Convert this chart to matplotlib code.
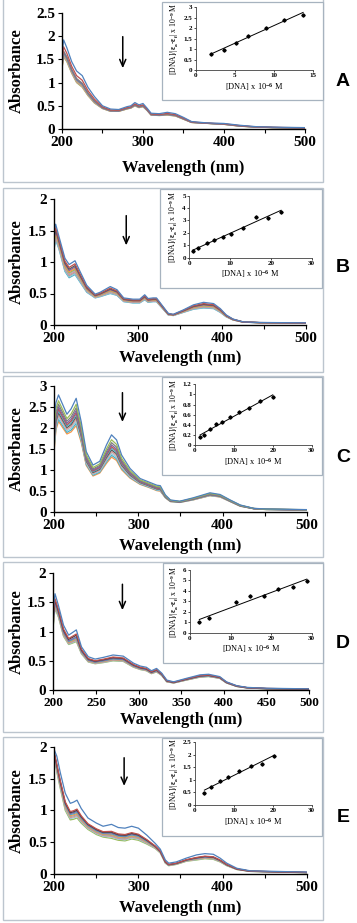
import numpy as np
import matplotlib
matplotlib.use('Agg')
import matplotlib.pyplot as plt
from matplotlib.patches import Rectangle
from matplotlib.ticker import FuncFormatter

plt.rcParams['font.family'] = ['Liberation Serif', 'DejaVu Serif']
plt.rcParams['font.weight'] = 'bold'
plt.rcParams['mathtext.fontset'] = 'custom'
plt.rcParams['mathtext.rm'] = 'Liberation Serif:bold'
plt.rcParams['mathtext.it'] = 'Liberation Serif:bold'
plt.rcParams['mathtext.bf'] = 'Liberation Serif:bold'
plt.rcParams['mathtext.default'] = 'rm'

# ---- spectra: top (blue) and bottom curves ----
wl_a = [200, 202, 206, 212, 218, 225, 232, 240, 250, 260, 270, 280, 285, 290, 295, 300,
        305, 310, 320, 330, 340, 350, 360, 380, 400, 420, 440, 460, 500]
top_a = [1.6, 1.92, 1.75, 1.45, 1.25, 1.15, 0.9, 0.7, 0.5, 0.43, 0.42, 0.48, 0.5, 0.57, 0.52, 0.55,
         0.45, 0.34, 0.33, 0.36, 0.33, 0.25, 0.16, 0.13, 0.12, 0.08, 0.05, 0.04, 0.03]
bot_a = [1.3, 1.55, 1.45, 1.2, 1.0, 0.9, 0.72, 0.56, 0.44, 0.38, 0.38, 0.43, 0.45, 0.5, 0.46, 0.48,
         0.4, 0.3, 0.29, 0.3, 0.28, 0.21, 0.14, 0.12, 0.1, 0.06, 0.04, 0.03, 0.02]
frac_a = [0, 0.4, 0.65, 0.72, 0.78, 0.84, 0.9, 0.95, 1.0]

wl_b = [200, 202, 206, 213, 218, 225, 231, 239, 249, 255, 267, 275, 283, 294, 302, 308, 312,
        318, 322, 330, 336, 342, 354, 366, 378, 390, 398, 405, 413, 425, 445, 500]
top_b = [1.5, 1.6, 1.4, 1.06, 0.96, 1.02, 0.85, 0.63, 0.49, 0.52, 0.61, 0.56, 0.43, 0.41, 0.41, 0.48, 0.42,
         0.43, 0.43, 0.29, 0.185, 0.17, 0.24, 0.32, 0.36, 0.34, 0.26, 0.16, 0.095, 0.05, 0.04, 0.035]
bot_b = [1.2, 1.35, 1.2, 0.85, 0.75, 0.8, 0.68, 0.52, 0.43, 0.45, 0.5, 0.47, 0.37, 0.35, 0.35, 0.4, 0.36,
         0.37, 0.37, 0.25, 0.16, 0.15, 0.2, 0.25, 0.27, 0.26, 0.2, 0.13, 0.08, 0.045, 0.035, 0.03]
frac_b = [0, 0.22, 0.35, 0.45, 0.55, 0.63, 0.7, 0.78, 0.85, 0.93, 1.0]

wl_c = [200, 202, 205, 210, 215, 220, 226, 232, 238, 246, 254, 262, 268, 274, 280, 290, 302,
        312, 322, 326, 332, 338, 349, 365, 385, 397, 409, 421, 437, 452, 500]
top_c = [2.3, 2.6, 2.78, 2.55, 2.32, 2.45, 2.7, 2.14, 1.43, 1.11, 1.2, 1.59, 1.83, 1.71, 1.35, 1.03, 0.79,
         0.71, 0.63, 0.62, 0.4, 0.28, 0.25, 0.33, 0.45, 0.41, 0.28, 0.16, 0.08, 0.065, 0.05]
bot_c = [1.5, 1.95, 2.15, 2.0, 1.85, 1.9, 2.05, 1.65, 1.1, 0.85, 0.92, 1.15, 1.3, 1.22, 1.0, 0.8, 0.65,
         0.58, 0.5, 0.49, 0.33, 0.24, 0.22, 0.28, 0.38, 0.35, 0.24, 0.13, 0.07, 0.05, 0.04]
frac_c = [0, 0.22, 0.35, 0.45, 0.53, 0.6, 0.68, 0.76, 0.84, 0.92, 1.0]

wl_d = [200, 202, 206, 212, 218, 222, 227, 233, 241, 249, 259, 270, 282, 294, 302, 309, 315,
        321, 327, 333, 341, 356, 372, 382, 395, 403, 415, 427, 450, 500]
top_d = [1.4, 1.65, 1.45, 1.11, 0.94, 0.98, 1.03, 0.74, 0.57, 0.53, 0.56, 0.6, 0.58, 0.46, 0.41, 0.39, 0.33,
         0.37, 0.29, 0.17, 0.14, 0.2, 0.26, 0.27, 0.23, 0.14, 0.074, 0.045, 0.03, 0.02]
bot_d = [1.1, 1.4, 1.25, 0.92, 0.78, 0.8, 0.83, 0.62, 0.48, 0.45, 0.47, 0.5, 0.49, 0.39, 0.35, 0.33, 0.28,
         0.31, 0.25, 0.14, 0.12, 0.17, 0.22, 0.23, 0.2, 0.12, 0.06, 0.035, 0.02, 0.015]
frac_d = [0, 0.35, 0.45, 0.6, 0.68, 0.75, 0.82, 0.88, 0.94, 1.0]

wl_e = [200, 203, 207, 213, 219, 223, 227, 232, 240, 250, 258, 268, 276, 284, 292, 300, 310,
        320, 326, 332, 336, 345, 357, 369, 379, 389, 397, 405, 417, 433, 500]
top_e = [1.95, 1.85, 1.6, 1.27, 1.11, 1.13, 1.16, 1.03, 0.88, 0.8, 0.75, 0.78, 0.73, 0.72, 0.75, 0.72, 0.61,
         0.48, 0.39, 0.22, 0.17, 0.19, 0.25, 0.3, 0.32, 0.31, 0.25, 0.17, 0.09, 0.05, 0.03]
bot_e = [1.85, 1.6, 1.35, 1.0, 0.85, 0.86, 0.88, 0.8, 0.7, 0.62, 0.58, 0.56, 0.53, 0.52, 0.55, 0.53, 0.47,
         0.4, 0.33, 0.17, 0.13, 0.15, 0.2, 0.22, 0.24, 0.23, 0.19, 0.13, 0.07, 0.04, 0.02]
frac_e = [0, 0.5, 0.56, 0.62, 0.68, 0.74, 0.8, 0.86, 0.92, 1.0]

# ---- inset data: [DNA] vs [DNA]/|ea-ef| ----
conc_a = [2.05, 3.63, 5.17, 6.67, 9.0, 11.3, 13.8]
ratio_a = [0.75, 0.96, 1.31, 1.64, 2.01, 2.39, 2.65]
conc_b = [0.8, 2.2, 4.25, 6.1, 8.2, 10.2, 13.2, 16.4, 19.4, 22.5]
ratio_b = [0.54, 0.75, 1.21, 1.42, 1.69, 1.88, 2.42, 3.31, 3.23, 3.71]
conc_c = [1.3, 2.3, 3.9, 5.4, 6.9, 9.0, 11.4, 13.9, 16.7, 20.0]
ratio_c = [0.15, 0.2, 0.32, 0.41, 0.45, 0.56, 0.65, 0.74, 0.86, 0.94]
conc_d = [2.3, 4.6, 11.3, 14.8, 18.3, 21.8, 25.3, 28.8]
ratio_d = [0.99, 1.44, 2.91, 3.51, 3.55, 4.19, 4.41, 4.98]
conc_e = [2.4, 4.0, 6.3, 8.6, 11.4, 14.3, 17.3, 20.3]
ratio_e = [0.47, 0.7, 0.97, 1.13, 1.36, 1.57, 1.65, 1.95]

letters = ['A', 'B', 'C', 'D', 'E']
ymax_main = [2.5, 2, 3, 2, 2]
inset_xmax = [15, 30, 30, 30, 30]
inset_ymax = [3, 5, 1.2, 6, 2.5]
inset_xstep = [5, 10, 10, 10, 10]
inset_ystep = [0.5, 1, 0.2, 1, 0.5]
xlabel_step = [100, 100, 100, 50, 100]

pal_a = ['#4F81BD', '#C0504D', '#7F7F7F', '#8064A2', '#4BACC6', '#F79646', '#A5A5A5', '#D99694', '#9BBB59']
pal_b = ['#4F81BD', '#C0504D', '#595959', '#8064A2', '#F79646', '#9BBB59', '#B3A2C7', '#D99694',
         '#A5A5A5', '#93CDDD', '#4BACC6']
pal_c = ['#4F81BD', '#9BBB59', '#7F7F7F', '#8064A2', '#C0504D', '#4BACC6', '#595959', '#D99694',
         '#93CDDD', '#4BACC6', '#F79646']
pal_d = ['#4F81BD', '#C0504D', '#404040', '#8064A2', '#4BACC6', '#F79646', '#A5A5A5', '#D99694', '#93CDDD', '#9BBB59']
pal_e = ['#4F81BD', '#C0504D', '#404040', '#8064A2', '#4BACC6', '#F79646', '#A5A5A5', '#D99694', '#93CDDD', '#9BBB59']

spectra = [(wl_a, top_a, bot_a, frac_a, pal_a), (wl_b, top_b, bot_b, frac_b, pal_b),
           (wl_c, top_c, bot_c, frac_c, pal_c), (wl_d, top_d, bot_d, frac_d, pal_d),
           (wl_e, top_e, bot_e, frac_e, pal_e)]
insets = [(conc_a, ratio_a), (conc_b, ratio_b), (conc_c, ratio_c), (conc_d, ratio_d), (conc_e, ratio_e)]

# ---- layout in pixels (x0, y0, x1, y1) ----
W, H = 357, 923
main_px = [(62, 13, 305, 129), (54, 199, 306, 325), (54.3, 385.7, 306.7, 511.7),
           (53.3, 573.3, 309.3, 690), (54.3, 746.7, 306.7, 874)]
inset_px = [(195.5, 7.3, 312.5, 70), (189.3, 195.7, 311.7, 257.7), (195, 384.3, 311.7, 445),
            (190, 570, 311.7, 632.7), (195, 742.3, 311.7, 805)]
inbox_px = [(162, 2, 323, 100), (160, 189, 322, 288), (162, 377, 322, 475),
            (163, 563, 323, 663), (162, 738, 322, 836)]
box_px = [(3, -2, 323, 182), (3, 188, 323, 372), (3, 376, 323, 557), (3, 562, 323, 732), (3, 737, 323, 920)]
letter_y = [82, 268, 457, 643, 817]
xlab_y = [168, 358, 546, 720, 908]
arrows = [(275, 2.05, 1.25), (286, 1.78, 1.22), (281, 2.9, 2.07), (281, 1.86, 1.32), (283, 1.87, 1.34)]


def rect(p):
    x0, y0, x1, y1 = p
    return [x0 / W, 1 - y1 / H, (x1 - x0) / W, (y1 - y0) / H]


fig = plt.figure(figsize=(W / 100, H / 100), dpi=100)
fmt = FuncFormatter(lambda v, _: f'{v:g}')

for i in range(5):
    # panel frame
    r = rect(box_px[i])
    fig.add_artist(Rectangle((r[0], r[1]), r[2], r[3], transform=fig.transFigure,
                             facecolor='white', edgecolor='#BCC5CE', lw=1.0, zorder=-1))

    wl, top, bot, frac, pal = spectra[i]
    top = np.array(top)
    bot = np.array(bot)
    ax = fig.add_axes(rect(main_px[i]))
    ax.patch.set_alpha(0)
    for f, c in reversed(list(zip(frac, pal))):
        ax.plot(wl, top * (1 - f) + bot * f, color=c, lw=0.9)
    ax.set_xlim(200, 500)
    ax.set_ylim(0, ymax_main[i])
    ax.set_xticks(np.arange(200, 501, 50))
    ax.set_xticklabels([str(v) if (v - 200) % xlabel_step[i] == 0 else '' for v in range(200, 501, 50)])
    ax.set_yticks(np.arange(0, ymax_main[i] + 0.01, 0.5))
    ax.yaxis.set_major_formatter(fmt)
    for s in ['top', 'right']:
        ax.spines[s].set_visible(False)
    for s in ['left', 'bottom']:
        ax.spines[s].set_linewidth(1.0)
    ax.tick_params(direction='out', length=3, width=0.8, labelsize=11, pad=2)
    if i == 3:
        ax.tick_params(axis='x', labelsize=9.5)
    x0, y0, x1, y1 = main_px[i]
    ax.set_ylabel('Absorbance', fontsize=12, fontweight='bold')
    ax.yaxis.set_label_coords((17 - x0) / (x1 - x0), 0.5)
    ax.yaxis.label.set_va('center')
    ax.set_xlabel('Wavelength (nm)', fontsize=12, fontweight='bold')
    ax.xaxis.set_label_coords(0.5, (y1 - xlab_y[i]) / (y1 - y0))
    ax.xaxis.label.set_va('center')
    ax_x, a_from, a_to = arrows[i]
    ax.annotate('', xy=(ax_x, a_to), xytext=(ax_x, a_from),
                arrowprops=dict(arrowstyle='->,head_length=0.5,head_width=0.22', color='black', lw=1.1))

    # inset frame and inset plot
    r = rect(inbox_px[i])
    fig.add_artist(Rectangle((r[0], r[1]), r[2], r[3], transform=fig.transFigure,
                             facecolor='white', edgecolor='#A7B3BF', lw=0.9, zorder=2))
    conc, ratio = insets[i]
    ins = fig.add_axes(rect(inset_px[i]))
    ins.set_zorder(3)
    ins.plot(conc, ratio, 'D', color='black', ms=1.7)
    k, b = np.polyfit(conc, ratio, 1)
    xs = np.array([min(conc), max(conc)])
    ins.plot(xs, k * xs + b, color='black', lw=0.7)
    ins.set_xlim(0, inset_xmax[i])
    ins.set_ylim(0, inset_ymax[i])
    ins.set_xticks(np.arange(0, inset_xmax[i] + 0.01, inset_xstep[i]))
    ins.set_yticks(np.arange(0, inset_ymax[i] + 1e-6, inset_ystep[i]))
    ins.xaxis.set_major_formatter(fmt)
    ins.yaxis.set_major_formatter(fmt)
    for s in ['top', 'right']:
        ins.spines[s].set_visible(False)
    for s in ['left', 'bottom']:
        ins.spines[s].set_linewidth(0.6)
        ins.spines[s].set_color('#404040')
    ins.tick_params(direction='out', length=1.5, width=0.5, labelsize=5, pad=1)
    ins.set_xlabel(r'[DNA] x 10$^{-6}$ M', fontsize=6, labelpad=1.5)
    ins.set_ylabel(r'[DNA]/|$ε_a$-$ε_f$| x 10$^{-9}$ M', fontsize=5.5, labelpad=1.5)

    fig.text(343 / W, 1 - letter_y[i] / H, letters[i], ha='center', va='center',
             fontsize=14, fontweight='bold', family=['Liberation Sans', 'DejaVu Sans'])

fig.savefig('out.png', dpi=100)
